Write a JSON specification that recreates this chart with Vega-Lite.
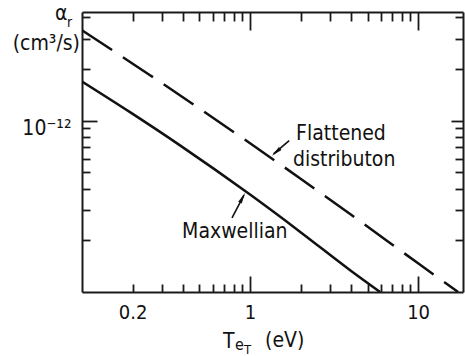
{
  "$schema": "https://vega.github.io/schema/vega-lite/v6.json",
  "width": 381,
  "height": 280,
  "autosize": {"type": "none"},
  "padding": {"left": 82, "top": 12, "right": 2, "bottom": 64},
  "background": "white",
  "data": {"values": [{}]},
  "config": {
    "view": {"stroke": null},
    "font": "DejaVu Sans Condensed",
    "axis": {
      "grid": false,
      "domainColor": "#1a1a1a",
      "domainWidth": 2,
      "tickColor": "#1a1a1a",
      "tickWidth": 1.8,
      "labelFont": "DejaVu Sans Condensed",
      "labelFontSize": 20,
      "labelColor": "#111",
      "title": null
    },
    "text": {"font": "DejaVu Sans Condensed", "fontSize": 21, "fill": "#111"}
  },
  "datasets": {
    "curves": [
      {"series": "Flattened", "T": 0.1, "alpha": 3.36e-12},
      {"series": "Flattened", "T": 0.254, "alpha": 1.84e-12},
      {"series": "Flattened", "T": 1, "alpha": 7.37e-13},
      {"series": "Flattened", "T": 1.98, "alpha": 4.61e-13},
      {"series": "Flattened", "T": 3.94, "alpha": 2.85e-13},
      {"series": "Flattened", "T": 10, "alpha": 1.47e-13},
      {"series": "Flattened", "T": 17.3, "alpha": 1.0e-13},
      {"series": "Maxwellian", "T": 0.1, "alpha": 1.69e-12},
      {"series": "Maxwellian", "T": 0.193, "alpha": 1.12e-12},
      {"series": "Maxwellian", "T": 0.383, "alpha": 7.17e-13},
      {"series": "Maxwellian", "T": 1, "alpha": 3.7e-13},
      {"series": "Maxwellian", "T": 1.98, "alpha": 2.25e-13},
      {"series": "Maxwellian", "T": 3.94, "alpha": 1.34e-13},
      {"series": "Maxwellian", "T": 5.94, "alpha": 1.0e-13}
    ]
  },
  "layer": [
    {
      "data": {"name": "curves"},
      "transform": [{"filter": "datum.series === 'Flattened'"}],
      "mark": {"type": "line", "color": "#111", "strokeWidth": 2.5, "strokeDash": [36, 13], "interpolate": "monotone", "clip": true},
      "encoding": {
        "x": {
          "field": "T", "type": "quantitative",
          "scale": {"type": "log", "domain": [0.1, 18.5], "nice": false},
          "axis": {
            "orient": "bottom",
            "values": [0.2, 0.3, 0.4, 0.5, 0.6, 0.7, 0.8, 0.9, 1, 2, 3, 4, 5, 6, 7, 8, 9, 10],
            "tickSize": {"condition": {"test": "datum.value === 1 || datum.value === 10", "value": -16}, "value": -8},
            "labelPadding": {"condition": {"test": "datum.value === 1 || datum.value === 10", "value": 42}, "value": 34},
            "labelExpr": "datum.value === 0.2 ? '0.2' : datum.value === 1 ? '1' : datum.value === 10 ? '10' : ''",
            "labelBaseline": "alphabetic",
            "labelFontSize": 20,
            "labelFont": "DejaVu Sans Condensed",
            "labelFlush": false
          }
        },
        "y": {
          "field": "alpha", "type": "quantitative",
          "scale": {"type": "log", "domain": [1e-13, 4.3e-12], "nice": false},
          "axis": {
            "orient": "left",
            "values": [2e-13, 3e-13, 4e-13, 5e-13, 6e-13, 7e-13, 8e-13, 9e-13, 1e-12, 2e-12, 3e-12, 4e-12],
            "tickSize": {"condition": {"test": "datum.value === 1e-12", "value": -15}, "value": -8},
            "labelExpr": "datum.value === 1e-12 ? '10⁻¹²' : ''",
            "labelBaseline": "alphabetic",
            "labelFontSize": 21,
            "labelFont": "DejaVu Sans Condensed",
            "labelOffset": 14,
            "labelPadding": 26,
            "labelFlush": false
          }
        }
      }
    },
    {
      "data": {"name": "curves"},
      "transform": [{"filter": "datum.series === 'Maxwellian'"}],
      "mark": {"type": "line", "color": "#111", "strokeWidth": 2.5, "interpolate": "monotone", "clip": true},
      "encoding": {
        "x": {
          "field": "T", "type": "quantitative",
          "axis": {
            "orient": "top",
            "values": [0.2, 0.3, 0.4, 0.5, 0.6, 0.7, 0.8, 0.9, 1, 2, 3, 4, 5, 6, 7, 8, 9, 10],
            "tickSize": {"condition": {"test": "datum.value === 1 || datum.value === 10", "value": -18}, "value": -9},
            "labels": false
          }
        },
        "y": {
          "field": "alpha", "type": "quantitative",
          "axis": {
            "orient": "right",
            "values": [2e-13, 3e-13, 4e-13, 5e-13, 6e-13, 7e-13, 8e-13, 9e-13, 1e-12, 2e-12, 3e-12, 4e-12],
            "tickSize": {"condition": {"test": "datum.value === 1e-12", "value": -12}, "value": -8},
            "labels": false
          }
        }
      }
    },
    {
      "mark": {"type": "rule", "color": "#111", "strokeWidth": 1.6},
      "encoding": {
        "x": {"datum": 1.71, "type": "quantitative", "axis": null},
        "y": {"datum": 7.64e-13, "type": "quantitative", "axis": null},
        "x2": {"datum": 1.38},
        "y2": {"datum": 6.4e-13}
      }
    },
    {
      "mark": {"type": "point", "shape": "M0,0L-0.4,2.2L0.4,2.2Z", "size": 100, "filled": true, "color": "#111", "opacity": 1, "angle": 228.6},
      "encoding": {
        "x": {"datum": 1.35, "type": "quantitative", "axis": null},
        "y": {"datum": 6.24e-13, "type": "quantitative", "axis": null}
      }
    },
    {
      "mark": {"type": "rule", "color": "#111", "strokeWidth": 1.6},
      "encoding": {
        "x": {"datum": 0.781, "type": "quantitative", "axis": null},
        "y": {"datum": 2.71e-13, "type": "quantitative", "axis": null},
        "x2": {"datum": 0.92},
        "y2": {"datum": 3.68e-13}
      }
    },
    {
      "mark": {"type": "point", "shape": "M0,0L-0.4,2.2L0.4,2.2Z", "size": 100, "filled": true, "color": "#111", "opacity": 1, "angle": 27.5},
      "encoding": {
        "x": {"datum": 0.934, "type": "quantitative", "axis": null},
        "y": {"datum": 3.79e-13, "type": "quantitative", "axis": null}
      }
    },
    {
      "mark": {"type": "text", "text": "Flattened", "align": "left", "baseline": "middle"},
      "encoding": {
        "x": {"datum": 1.88, "type": "quantitative", "axis": null},
        "y": {"datum": 8.39e-13, "type": "quantitative", "axis": null}
      }
    },
    {
      "mark": {"type": "text", "text": "distributon", "align": "left", "baseline": "middle"},
      "encoding": {
        "x": {"datum": 1.8, "type": "quantitative", "axis": null},
        "y": {"datum": 5.92e-13, "type": "quantitative", "axis": null}
      }
    },
    {
      "mark": {"type": "text", "text": "Maxwellian", "align": "left", "baseline": "middle"},
      "encoding": {
        "x": {"datum": 0.394, "type": "quantitative", "axis": null},
        "y": {"datum": 2.24e-13, "type": "quantitative", "axis": null}
      }
    },
    {
      "mark": {"type": "text", "text": "α", "align": "left", "baseline": "alphabetic", "dx": -27, "dy": 8},
      "encoding": {
        "x": {"datum": 0.1, "type": "quantitative", "axis": null},
        "y": {"datum": 4.3e-12, "type": "quantitative", "axis": null}
      }
    },
    {
      "mark": {"type": "text", "text": "r", "align": "left", "baseline": "alphabetic", "fontSize": 14, "dx": -15, "dy": 15},
      "encoding": {
        "x": {"datum": 0.1, "type": "quantitative", "axis": null},
        "y": {"datum": 4.3e-12, "type": "quantitative", "axis": null}
      }
    },
    {
      "mark": {"type": "text", "text": "(cm³/s)", "align": "right", "baseline": "alphabetic", "dx": -2, "dy": 38},
      "encoding": {
        "x": {"datum": 0.1, "type": "quantitative", "axis": null},
        "y": {"datum": 4.3e-12, "type": "quantitative", "axis": null}
      }
    },
    {
      "mark": {"type": "text", "text": "T", "align": "left", "baseline": "alphabetic", "dx": -27, "dy": 56},
      "encoding": {
        "x": {"datum": 1, "type": "quantitative", "axis": null},
        "y": {"datum": 1e-13, "type": "quantitative", "axis": null}
      }
    },
    {
      "mark": {"type": "text", "text": "e", "align": "left", "baseline": "alphabetic", "fontSize": 16, "dx": -15, "dy": 58},
      "encoding": {
        "x": {"datum": 1, "type": "quantitative", "axis": null},
        "y": {"datum": 1e-13, "type": "quantitative", "axis": null}
      }
    },
    {
      "mark": {"type": "text", "text": "T", "align": "left", "baseline": "alphabetic", "fontSize": 13, "dx": -6, "dy": 62},
      "encoding": {
        "x": {"datum": 1, "type": "quantitative", "axis": null},
        "y": {"datum": 1e-13, "type": "quantitative", "axis": null}
      }
    },
    {
      "mark": {"type": "text", "text": "(eV)", "align": "left", "baseline": "alphabetic", "dx": 15, "dy": 55},
      "encoding": {
        "x": {"datum": 1, "type": "quantitative", "axis": null},
        "y": {"datum": 1e-13, "type": "quantitative", "axis": null}
      }
    }
  ],
  "resolve": {"axis": {"x": "independent", "y": "independent"}}
}
